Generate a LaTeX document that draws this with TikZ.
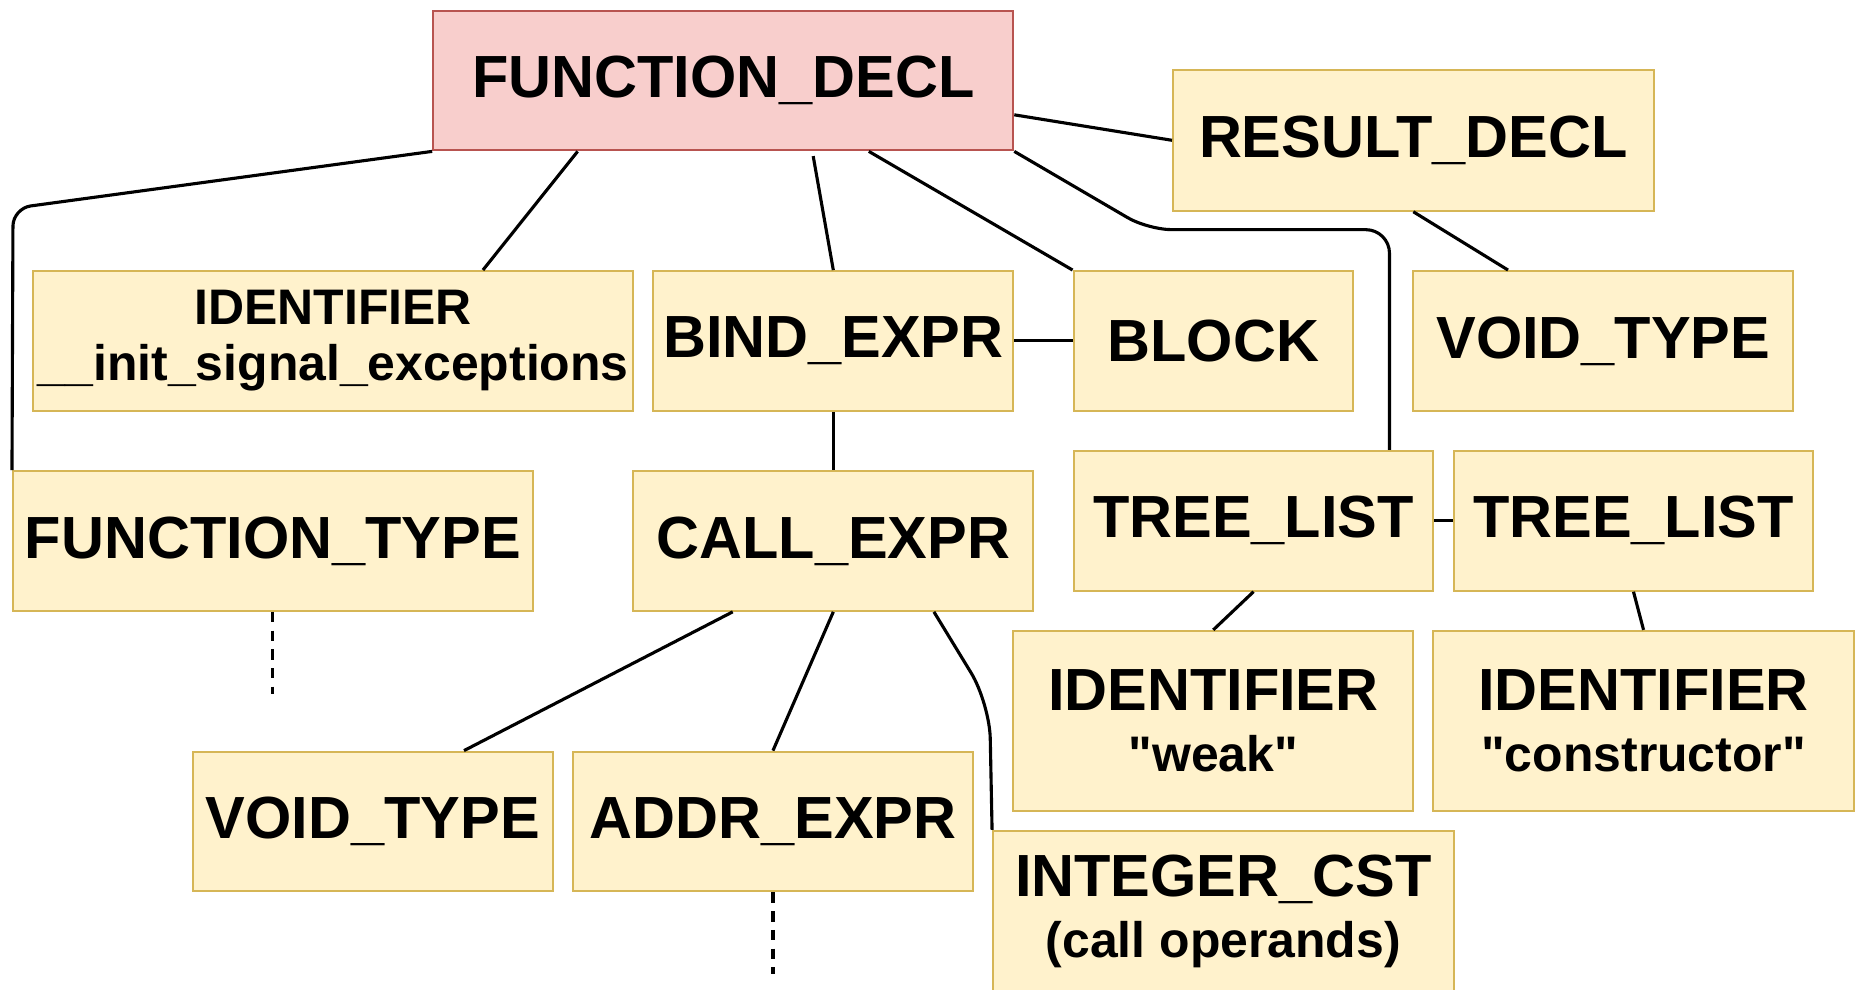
\documentclass[tikz,border=0pt]{standalone}
\usepackage{fontspec}
\setmainfont{Liberation Sans}
\definecolor{NodeFill}{HTML}{FFF2CC}
\definecolor{NodeLine}{HTML}{D6B656}
\definecolor{RootFill}{HTML}{F8CECC}
\definecolor{RootLine}{HTML}{B85450}
% smaller second line inside a tree node
\newcommand{\astvalue}[1]{{\fontsize{12}{14}\selectfont #1}}

\begin{document}
\begin{tikzpicture}[
  ast/.style={rectangle, draw=NodeLine, fill=NodeFill, line width=0.5pt, inner sep=0pt, align=center, font=\fontsize{14.3}{16}\selectfont\bfseries},
  root/.style={ast, draw=RootLine, fill=RootFill},
  edge/.style={line width=0.75pt, black},
  stub/.style={edge, dash pattern=on 2.5pt off 2pt}]
  \useasboundingbox (0,0) rectangle (15.68,-8.36);

  % tree nodes
  \node[root, minimum width=4.90cm, minimum height=1.18cm] (fdecl) at (6.11,-0.68) {FUNCTION\_DECL};
  \node[ast, minimum width=4.06cm, minimum height=1.19cm] (result) at (11.94,-1.185) {RESULT\_DECL};
  \node[ast, minimum width=5.07cm, minimum height=1.18cm, font=\fontsize{12}{13.4}\selectfont\bfseries] (ident) at (2.815,-2.88) {IDENTIFIER\\\_\_init\_signal\_exceptions};
  \node[ast, minimum width=3.04cm, minimum height=1.18cm] (bind) at (7.04,-2.88) {BIND\_EXPR};
  \node[ast, minimum width=2.36cm, minimum height=1.18cm] (block) at (10.25,-2.88) {BLOCK};
  \node[ast, minimum width=3.21cm, minimum height=1.18cm] (rtype) at (13.545,-2.88) {VOID\_TYPE};
  \node[ast, minimum width=4.39cm, minimum height=1.18cm] (ftype) at (2.305,-4.57) {FUNCTION\_TYPE};
  \node[ast, minimum width=3.38cm, minimum height=1.18cm] (callx) at (7.04,-4.57) {CALL\_EXPR};
  \node[ast, minimum width=3.04cm, minimum height=1.18cm] (tlista) at (10.59,-4.40) {TREE\_LIST};
  \node[ast, minimum width=3.04cm, minimum height=1.18cm] (tlistb) at (13.80,-4.40) {TREE\_LIST};
  \node[ast, minimum width=3.38cm, minimum height=1.52cm] (weak) at (10.25,-6.09) {IDENTIFIER\\[-1.5pt]\astvalue{\textquotedbl weak\textquotedbl}};
  \node[ast, minimum width=3.55cm, minimum height=1.52cm] (ctor) at (13.885,-6.09) {IDENTIFIER\\[-1.5pt]\astvalue{\textquotedbl constructor\textquotedbl}};
  \node[ast, minimum width=3.04cm, minimum height=1.18cm] (vtype) at (3.15,-6.94) {VOID\_TYPE};
  \node[ast, minimum width=3.38cm, minimum height=1.18cm] (addr) at (6.53,-6.94) {ADDR\_EXPR};
  \node[ast, minimum width=3.89cm, minimum height=1.36cm] (intcst) at (10.335,-7.70) {INTEGER\_CST\\[-1.5pt]\astvalue{(call operands)}};

  % connectors
  \draw[edge, rounded corners=1.5mm] (fdecl.south west) -- (0.11,-1.76) -- (ftype.north west);
  \draw[edge] ([xshift=-12.3mm]fdecl.south) -- ([xshift=12.65mm]ident.north);
  \draw[edge] ([xshift=7.6mm,yshift=-0.4mm]fdecl.south) -- (bind.north);
  \draw[edge] ([xshift=12.3mm]fdecl.south) -- (block.north west);
  \draw[edge] ([yshift=-2.9mm]fdecl.east) -- (result.west);
  \draw[edge, rounded corners=2mm] (fdecl.south east) -- (9.70,-1.94) -| ([xshift=-3.8mm]tlista.north east);
  \draw[edge] (result.south) -- ([xshift=-8.05mm]rtype.north);
  \draw[edge] (bind.east) -- (block.west);
  \draw[edge] (bind.south) -- (callx.north);
  \draw[edge] ([xshift=-8.5mm]callx.south) -- ([xshift=7.7mm]vtype.north);
  \draw[edge] (callx.south) -- (addr.north);
  \draw[edge, rounded corners=3mm] ([xshift=8.5mm]callx.south) -- (8.36,-5.94) -- (intcst.north west);
  \draw[edge] (tlista.east) -- (tlistb.west);
  \draw[edge] (tlista.south) -- (weak.north);
  \draw[edge] (tlistb.south) -- (ctor.north);
  \draw[stub] (ftype.south) -- ++(0,-0.69);
  \draw[stub] (addr.south) -- ++(0,-0.69);
\end{tikzpicture}
\end{document}
